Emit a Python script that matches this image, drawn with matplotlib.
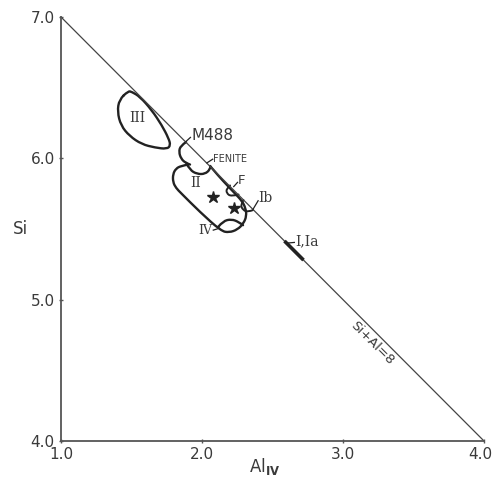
import matplotlib
matplotlib.use('Agg')
import matplotlib.pyplot as plt
import matplotlib.transforms as mtrans
from matplotlib.path import Path
from matplotlib.patches import PathPatch

# ---------------- data ----------------
x_ticks = [1.0, 2.0, 3.0, 4.0]
x_tick_labels = ['1.0', '2.0', '3.0', '4.0']
y_ticks = [4.0, 5.0, 6.0, 7.0]
y_tick_labels = ['4.0', '5.0', '6.0', '7.0']

# Si + Al = 8 line
line_al = [1.0, 4.0]
line_si = [7.0, 4.0]

# field III (closed)
III_al = [1.477, 1.413, 1.400, 1.425, 1.486, 1.572, 1.667, 1.752, 1.777, 1.763, 1.714, 1.643, 1.560, 1.501]
III_si = [6.476, 6.415, 6.330, 6.232, 6.158, 6.100, 6.076, 6.066, 6.092, 6.142, 6.236, 6.342, 6.436, 6.471]

# field II (open outline)
II_al = [2.057, 2.121, 2.177, 2.234, 2.284, 2.309, 2.316, 2.294, 2.252, 2.192, 2.135, 1.986, 1.851, 1.816, 1.794, 1.794, 1.816, 1.851, 1.901]
II_si = [5.946, 5.871, 5.811, 5.751, 5.698, 5.648, 5.592, 5.539, 5.496, 5.475, 5.486, 5.620, 5.754, 5.790, 5.832, 5.889, 5.928, 5.946, 5.956]

# M488 arc
M488_al = [1.887, 1.848, 1.836, 1.852, 1.883, 1.915]
M488_si = [6.115, 6.089, 6.045, 5.997, 5.968, 5.956]

# fenite arc
FEN_al = [1.890, 1.915, 1.965, 2.021, 2.057, 2.060]
FEN_si = [5.963, 5.917, 5.889, 5.889, 5.921, 5.942]

# field IV arc
IV_al = [2.117, 2.149, 2.209, 2.262, 2.291]
IV_si = [5.517, 5.556, 5.570, 5.549, 5.527]

# F arc
F_al = [2.199, 2.174, 2.174, 2.206, 2.259]
F_si = [5.808, 5.786, 5.754, 5.730, 5.744]

# Ib arc
Ib_al = [2.294, 2.273, 2.291, 2.326, 2.362]
Ib_si = [5.705, 5.670, 5.634, 5.620, 5.634]

# I, Ia segment on the line
Ia_al = [2.585, 2.720]
Ia_si = [5.415, 5.280]

# stars
star_al = [2.078, 2.227]
star_si = [5.727, 5.650]

INK = '#222222'
TXT = '#3a3a3a'


def smooth(ax, xs, ys, closed=False, lw=1.7):
    pts = list(zip(xs, ys))
    n = len(pts)
    mid = lambda a, b: ((a[0] + b[0]) / 2, (a[1] + b[1]) / 2)
    verts, codes = [], []
    if closed:
        verts.append(mid(pts[0], pts[1])); codes.append(Path.MOVETO)
        for i in range(1, n + 1):
            c = pts[i % n]
            e = mid(pts[i % n], pts[(i + 1) % n])
            verts += [c, e]; codes += [Path.CURVE3, Path.CURVE3]
    else:
        verts.append(pts[0]); codes.append(Path.MOVETO)
        for i in range(1, n - 1):
            c = pts[i]
            e = pts[n - 1] if i == n - 2 else mid(pts[i], pts[i + 1])
            verts += [c, e]; codes += [Path.CURVE3, Path.CURVE3]
        if n == 2:
            verts.append(pts[1]); codes.append(Path.LINETO)
    ax.add_patch(PathPatch(Path(verts, codes), fill=False, ec=INK, lw=lw,
                           capstyle='round', joinstyle='round'))


fig = plt.figure(figsize=(4.93, 4.84), dpi=100)
ax = fig.add_axes([61 / 493, 43 / 484, 423 / 493, 424 / 484])
ax.set_xlim(1.0, 4.0)
ax.set_ylim(4.0, 7.0)

for s in ['top', 'right']:
    ax.spines[s].set_visible(False)
for s in ['left', 'bottom']:
    ax.spines[s].set_linewidth(1.3)
    ax.spines[s].set_color('#555555')

ax.set_xticks(x_ticks)
ax.set_xticklabels(x_tick_labels)
ax.set_yticks(y_ticks)
ax.set_yticklabels(y_tick_labels)
ax.tick_params(direction='inout', length=3, width=1, colors='#555555',
               labelcolor=TXT, labelsize=11, pad=3)
last = ax.get_xticklabels()[-1]
last.set_transform(last.get_transform() + mtrans.ScaledTranslation(-4 / 100, 0, fig.dpi_scale_trans))

ax.set_xlabel(r'Al$_{\mathbf{IV}}$', fontsize=12, color=TXT)
ax.xaxis.set_label_coords(0.482, -0.035)
ax.set_ylabel('Si', fontsize=12, color=TXT, rotation=0, ha='center', va='center')
ax.yaxis.set_label_coords(-0.095, 0.5)

ax.plot(line_al, line_si, color='#444444', lw=0.9, clip_on=False)
ax.text(3.204, 4.696, 'Si+Al=8', rotation=-45, ha='center', va='center',
        fontsize=9.5, color=TXT, rotation_mode='anchor')

smooth(ax, III_al, III_si, closed=True)
smooth(ax, II_al, II_si)
smooth(ax, M488_al, M488_si)
smooth(ax, FEN_al, FEN_si)
smooth(ax, IV_al, IV_si)
smooth(ax, F_al, F_si, lw=1.4)
smooth(ax, Ib_al, Ib_si, lw=1.4)
ax.plot(Ia_al, Ia_si, color=INK, lw=2.6, solid_capstyle='butt')

ax.plot(star_al, star_si, linestyle='none', marker='*', ms=9, color=INK)

serif = 'DejaVu Serif'
ax.text(1.54, 6.285, 'III', family=serif, fontsize=10, ha='center', va='center', color=TXT)
ax.text(1.957, 5.825, 'II', family=serif, fontsize=10, ha='center', va='center', color=TXT)
ax.text(2.075, 5.492, 'IV', family=serif, fontsize=9, ha='right', va='center', color=TXT)
ax.plot([2.08, 2.122], [5.492, 5.505], color=INK, lw=0.9)

ax.text(1.922, 6.165, 'M488', fontsize=11, ha='left', va='center', color=TXT)
ax.plot([1.885, 1.918], [6.118, 6.148], color=INK, lw=0.9)

ax.text(2.08, 5.997, 'FENITE', fontsize=7, ha='left', va='center', color=TXT)
ax.plot([2.035, 2.076], [5.968, 5.994], color=INK, lw=0.9)

ax.text(2.252, 5.845, 'F', fontsize=9.5, ha='left', va='center', color=TXT)
ax.plot([2.225, 2.252], [5.800, 5.830], color=INK, lw=0.9)

ax.text(2.40, 5.722, 'Ib', family=serif, fontsize=10, ha='left', va='center', color=TXT)
ax.plot([2.362, 2.398], [5.640, 5.700], color=INK, lw=0.9)

ax.text(2.66, 5.41, 'I,Ia', family=serif, fontsize=10, ha='left', va='center', color=TXT)
ax.plot([2.600, 2.655], [5.400, 5.405], color=INK, lw=0.9)

fig.savefig('out.png', dpi=100, facecolor='white')
